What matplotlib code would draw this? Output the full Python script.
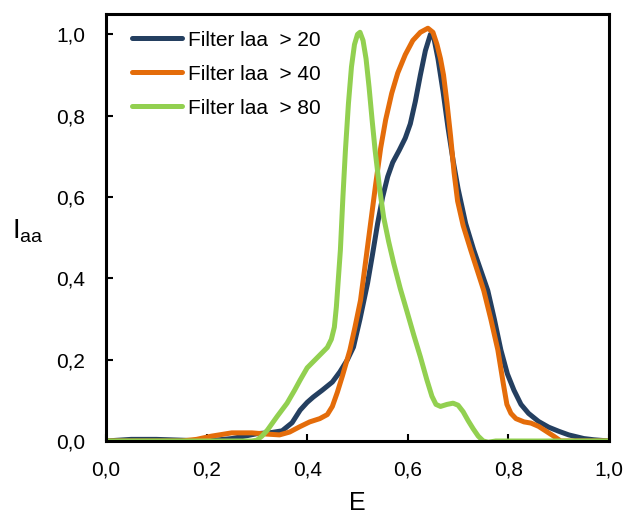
import matplotlib
matplotlib.use("Agg")
from matplotlib import pyplot as plt
from matplotlib.ticker import FuncFormatter

plt.rcParams['font.family'] = ['Liberation Sans', 'DejaVu Sans']

# Filter laa > 20
e_20 = [0.0, 0.05, 0.1, 0.15, 0.2, 0.25, 0.28, 0.3, 0.33, 0.35, 0.37, 0.386,
        0.4, 0.412, 0.43, 0.45, 0.465, 0.48, 0.492, 0.505, 0.52, 0.53, 0.54,
        0.55, 0.56, 0.57, 0.583, 0.595, 0.605, 0.615, 0.625, 0.635, 0.645,
        0.652, 0.66, 0.67, 0.68, 0.69, 0.7, 0.715, 0.731, 0.745, 0.759, 0.772,
        0.785, 0.798, 0.811, 0.825, 0.84, 0.86, 0.88, 0.9, 0.92, 0.95, 0.97, 1.0]
i_20 = [0.0, 0.004, 0.004, 0.002, 0.0, 0.006, 0.013, 0.018, 0.021, 0.025, 0.045,
        0.076, 0.095, 0.108, 0.125, 0.145, 0.17, 0.2, 0.231, 0.3, 0.388, 0.46,
        0.535, 0.6, 0.65, 0.685, 0.715, 0.745, 0.78, 0.835, 0.9, 0.96, 1.0,
        0.99, 0.94, 0.86, 0.77, 0.69, 0.62, 0.535, 0.47, 0.42, 0.37, 0.3,
        0.224, 0.165, 0.125, 0.09, 0.068, 0.048, 0.034, 0.024, 0.015, 0.006,
        0.003, 0.0]

# Filter laa > 40
e_40 = [0.0, 0.15, 0.18, 0.21, 0.25, 0.29, 0.32, 0.345, 0.365, 0.385, 0.405,
        0.425, 0.44, 0.45, 0.46, 0.47, 0.485, 0.495, 0.506, 0.516, 0.526, 0.536,
        0.546, 0.556, 0.568, 0.58, 0.595, 0.61, 0.625, 0.64, 0.65, 0.658, 0.665,
        0.671, 0.678, 0.685, 0.692, 0.699, 0.71, 0.725, 0.738, 0.751, 0.765,
        0.779, 0.79, 0.797, 0.805, 0.815, 0.831, 0.845, 0.86, 0.875, 0.89,
        0.904, 1.0]
i_40 = [0.0, 0.0, 0.004, 0.012, 0.02, 0.02, 0.017, 0.015, 0.022, 0.035, 0.047,
        0.055, 0.065, 0.085, 0.12, 0.16, 0.224, 0.28, 0.346, 0.44, 0.535, 0.63,
        0.72, 0.79, 0.855, 0.905, 0.95, 0.985, 1.005, 1.015, 1.005, 0.975, 0.94,
        0.9, 0.83, 0.75, 0.66, 0.59, 0.53, 0.47, 0.42, 0.37, 0.3, 0.224, 0.14,
        0.09, 0.068, 0.055, 0.047, 0.044, 0.036, 0.024, 0.012, 0.0, 0.0]

# Filter laa > 80
e_80 = [0.0, 0.29, 0.3, 0.31, 0.321, 0.34, 0.36, 0.375, 0.386, 0.4, 0.42, 0.44,
        0.448, 0.454, 0.458, 0.462, 0.466, 0.471, 0.476, 0.482, 0.488, 0.494,
        0.5, 0.505, 0.511, 0.517, 0.523, 0.529, 0.535, 0.544, 0.552, 0.562,
        0.572, 0.585, 0.598, 0.612, 0.625, 0.638, 0.648, 0.656, 0.665, 0.678,
        0.69, 0.7, 0.71, 0.72, 0.73, 0.74, 0.75, 0.76, 0.775, 0.8, 1.0]
i_80 = [0.0, 0.0, 0.002, 0.012, 0.027, 0.06, 0.093, 0.125, 0.15, 0.18, 0.205,
        0.23, 0.25, 0.28, 0.33, 0.4, 0.47, 0.6, 0.715, 0.83, 0.92, 0.975, 1.0,
        1.005, 0.985, 0.94, 0.87, 0.79, 0.715, 0.62, 0.55, 0.49, 0.437, 0.375,
        0.32, 0.26, 0.207, 0.15, 0.11, 0.09, 0.085, 0.09, 0.093, 0.088, 0.072,
        0.05, 0.03, 0.012, 0.0, -0.003, 0.0, 0.0, 0.0]

labels = ["Filter laa  > 20", "Filter laa  > 40", "Filter laa  > 80"]
colors = ["#243F60", "#E46C0A", "#92D050"]
ticks = [0.0, 0.2, 0.4, 0.6, 0.8, 1.0]


def comma(v, pos):
    return f"{v:.1f}".replace(".", ",")


fig = plt.figure(figsize=(6.28, 5.17), dpi=100)
ax = fig.add_axes([106 / 628, 1 - 441 / 517, 503 / 628, 427 / 517])

for xs, ys, lab, col in zip([e_20, e_40, e_80], [i_20, i_40, i_80], labels, colors):
    ax.plot(xs, ys, color=col, lw=3.6, label=lab, solid_joinstyle="round",
            solid_capstyle="round")

ax.set_xlim(0, 1.0)
ax.set_ylim(0, 1.05)
ax.set_xticks(ticks)
ax.set_yticks(ticks)
ax.xaxis.set_major_formatter(FuncFormatter(comma))
ax.yaxis.set_major_formatter(FuncFormatter(comma))
ax.tick_params(direction="in", length=5, width=1.5, labelsize=15)
ax.tick_params(axis="x", pad=14)
ax.tick_params(axis="y", pad=15)
for sp in ax.spines.values():
    sp.set_linewidth(2.2)

ax.set_xlabel("E", fontsize=18, labelpad=8)
ax.set_ylabel(r"$\mathregular{I_{aa}}$", fontsize=20, rotation=0, labelpad=0)
ax.yaxis.set_label_coords(-0.155, 0.46)

ax.legend(loc="upper left", bbox_to_anchor=(0.015, 1.005), frameon=False,
          fontsize=15, handlelength=2.4, handletextpad=0.25, labelspacing=0.72)

fig.savefig("out.png", dpi=100)
